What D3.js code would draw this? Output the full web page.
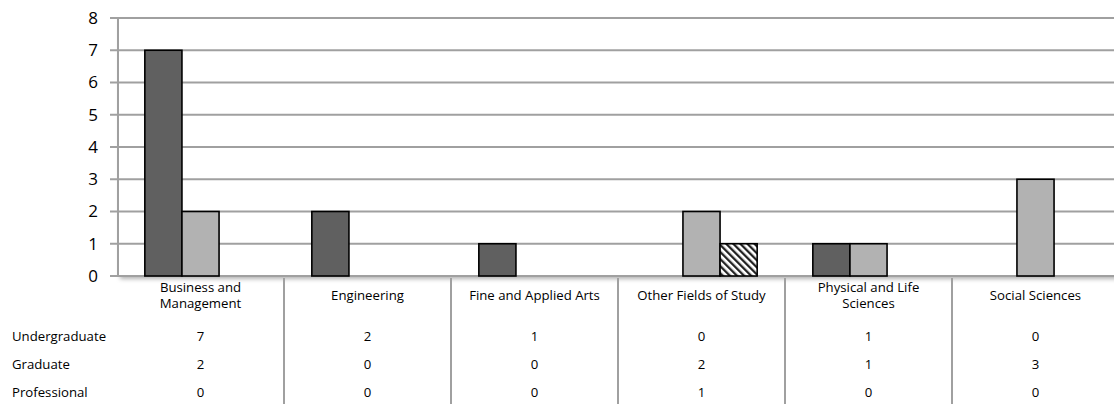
<!DOCTYPE html>
<html><head><meta charset="utf-8">
<script src="https://cdn.jsdelivr.net/npm/d3@7"></script>
<style>body{margin:0;background:#fff}svg{display:block}text{font-family:"Open Sans","Liberation Sans",sans-serif}</style>
</head><body><svg id="c" width="1114" height="404"></svg>
<script>
const categories = [["Business and","Management"],["Engineering"],["Fine and Applied Arts"],["Other Fields of Study"],["Physical and Life","Sciences"],["Social Sciences"]];
const seriesNames = ["Undergraduate","Graduate","Professional"];
const undergraduate = [7,2,1,0,1,0];
const graduate = [2,0,0,2,1,3];
const professional = [0,0,0,1,0,0];
const yTicks = [0,1,2,3,4,5,6,7,8];
const series = [undergraduate, graduate, professional];

(function(){
const svg = d3.select("#c");
const pL = 117, pR = 1119, pT = 18, pB = 276;
const catKeys = categories.map((c,i)=>i);
const x = d3.scaleBand().domain(catKeys).range([pL,pR]);
const y = d3.scaleLinear().domain([0,8]).range([pB,pT]);
const bw = x.bandwidth()/(3+1.5);
const xs = d3.scaleBand().domain([0,1,2]).range([0,bw*3]);

const defs = svg.append("defs");
const pat = defs.append("pattern").attr("id","hatch").attr("patternUnits","userSpaceOnUse")
  .attr("width",5).attr("height",5).attr("patternTransform","rotate(-45)");
pat.append("rect").attr("width",5).attr("height",5).attr("fill","#fff");
pat.append("rect").attr("width",2.3).attr("height",5).attr("fill","#222");
const flt = defs.append("filter").attr("id","sh").attr("x","-5%").attr("y","-5%").attr("width","110%").attr("height","120%");
flt.append("feDropShadow").attr("dx",3).attr("dy",3).attr("stdDeviation",2).attr("flood-color","#000").attr("flood-opacity",0.3);

svg.append("rect").attr("x",pL).attr("y",pT).attr("width",pR-pL).attr("height",pB-pT)
  .attr("fill","#fff").attr("filter","url(#sh)");

svg.append("g").selectAll("line").data(yTicks).join("line")
  .attr("x1",pL-7).attr("x2",pR).attr("y1",d=>y(d)).attr("y2",d=>y(d))
  .attr("stroke","#a0a0a0").attr("stroke-width",2);

svg.append("line").attr("x1",pL+1).attr("x2",pL+1).attr("y1",pT).attr("y2",pB)
  .attr("stroke","#a0a0a0").attr("stroke-width",2);

svg.append("g").selectAll("text").data(yTicks).join("text")
  .attr("x",98).attr("y",d=>y(d)).attr("dy","0.35em").attr("text-anchor","end")
  .attr("font-size",17).attr("fill","#000").text(d=>d);

const fills = ["#606060","#b2b2b2","url(#hatch)"];
series.forEach((vals,si)=>{
  svg.append("g").selectAll("rect").data(vals.map((v,i)=>({v,i})).filter(d=>d.v>0)).join("rect")
    .attr("x",d=>x(d.i)+x.bandwidth()/2-bw*1.5+xs(si))
    .attr("y",d=>y(d.v)).attr("width",bw).attr("height",d=>y(0)-y(d.v))
    .attr("fill",fills[si]).attr("stroke","#000").attr("stroke-width",1.6);
});

svg.append("g").selectAll("line").data(catKeys.slice(1)).join("line")
  .attr("x1",d=>x(d)).attr("x2",d=>x(d)).attr("y1",pB+2).attr("y2",404)
  .attr("stroke","#a0a0a0").attr("stroke-width",2);

const fs = 13.2;
const cl = svg.append("g");
categories.forEach((c,i)=>{
  const cx = x(i)+x.bandwidth()/2;
  const t = cl.append("text").attr("text-anchor","middle").attr("font-size",fs).attr("fill","#000");
  const y0 = c.length===1 ? 295 : 287;
  c.forEach((line,j)=>t.append("tspan").attr("x",cx).attr("y",y0+j*16).attr("dy","0.35em").text(line));
});

const rowY = [336,364,392];
seriesNames.forEach((n,si)=>{
  svg.append("text").attr("x",12).attr("y",rowY[si]).attr("dy","0.35em").attr("font-size",fs).text(n);
  svg.append("g").selectAll("text").data(series[si]).join("text")
    .attr("x",(d,i)=>x(i)+x.bandwidth()/2).attr("y",rowY[si]).attr("dy","0.35em")
    .attr("text-anchor","middle").attr("font-size",fs).text(d=>d);
});
})();
</script></body></html>
